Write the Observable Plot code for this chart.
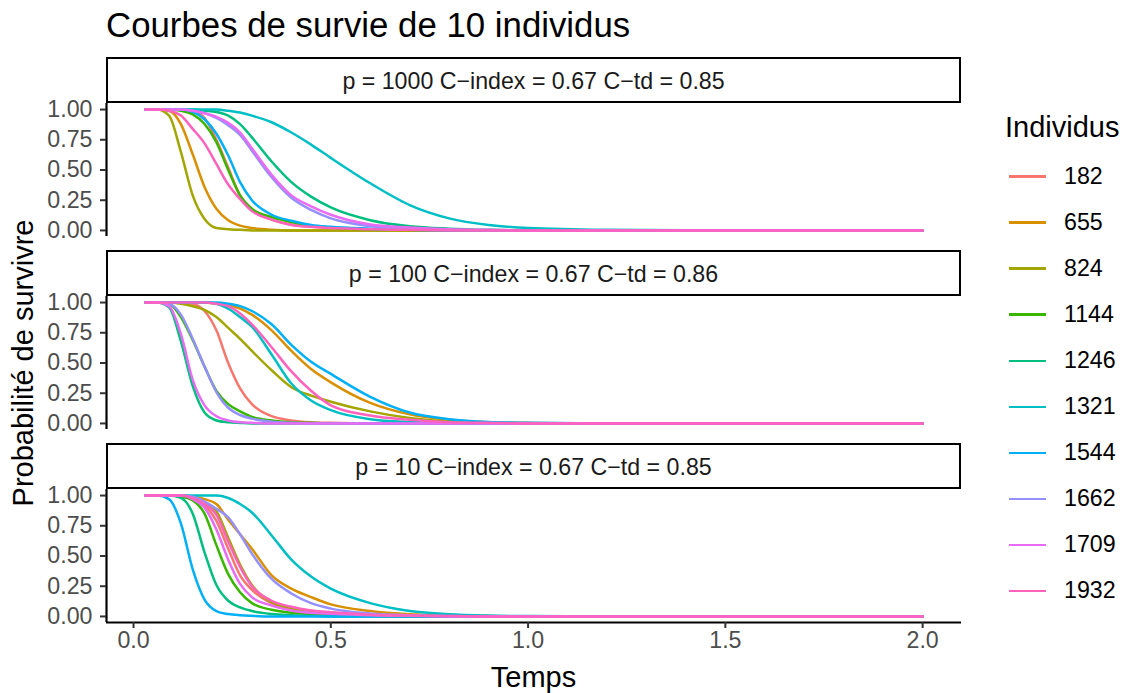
<!DOCTYPE html>
<html>
<head>
<meta charset="utf-8">
<script src="https://cdn.jsdelivr.net/npm/d3@7"></script>
<script src="https://cdn.jsdelivr.net/npm/@observablehq/plot@0.6"></script>
<style>
  html, body { margin: 0; padding: 0; background: #fff; }
  #root { position: relative; width: 1123px; height: 693px; overflow: hidden; background: #fff;
          font-family: "Liberation Sans", Arial, Helvetica, sans-serif; }
  .abs { position: absolute; white-space: nowrap; line-height: 1; }
  .strip { position: absolute; box-sizing: border-box; border: 2.7px solid #000; background: #fff;
           display: flex; align-items: center; justify-content: center; font-size: 23.2px; color: #1A1A1A;
           padding-top: 2px; }
  .plotbox { position: absolute; left: 0; }
</style>
</head>
<body>
<div id="root"></div>
<script>
// ---------- data ----------
const temps = [0.03, 0.06, 0.09, 0.12, 0.15, 0.18, 0.21, 0.24, 0.27, 0.30, 0.35, 0.40, 0.45, 0.50, 0.60, 0.70, 0.80, 0.90, 1.00, 1.20, 1.50, 2.00];
const individus = ["182", "655", "824", "1144", "1246", "1321", "1544", "1662", "1709", "1932"];
const couleurs = ["#F8766D", "#D89000", "#A3A500", "#39B600", "#00BF7D", "#00BFC4", "#00B0F6", "#9590FF", "#E76BF3", "#FF62BC"];
const titresPanneaux = [
  "p = 1000 C\u2212index = 0.67 C\u2212td = 0.85",
  "p = 100 C\u2212index = 0.67 C\u2212td = 0.86",
  "p = 10 C\u2212index = 0.67 C\u2212td = 0.85"
];
const yTicks = [0, 0.25, 0.5, 0.75, 1];
const xTicks = [0, 0.5, 1, 1.5, 2];

// survival probability per individual (rows follow `individus`), columns follow `temps`
const surv_p1000 = [
  [1,1,1,1,0.99,0.93,0.75,0.52,0.29,0.17,0.09,0.05,0.03,0.02,0.01,0,0,0,0,0,0,0],
  [1,1,0.99,0.88,0.63,0.36,0.18,0.085,0.04,0.02,0.005,0,0,0,0,0,0,0,0,0,0,0],
  [1,1,0.95,0.65,0.29,0.095,0.02,0.01,0.005,0,0,0,0,0,0,0,0,0,0,0,0,0],
  [1,1,1,0.99,0.96,0.88,0.73,0.50,0.29,0.18,0.11,0.07,0.04,0.025,0.01,0.005,0,0,0,0,0,0],
  [1,1,1,1,1,0.99,0.98,0.95,0.88,0.77,0.57,0.40,0.28,0.19,0.085,0.035,0.015,0.005,0,0,0,0],
  [1,1,1,1,1,1,1,0.99,0.975,0.95,0.895,0.81,0.71,0.60,0.39,0.21,0.10,0.045,0.02,0.005,0,0],
  [1,1,1,1,0.98,0.92,0.80,0.62,0.40,0.25,0.13,0.08,0.045,0.03,0.015,0.005,0,0,0,0,0,0],
  [1,1,1,1,0.99,0.97,0.93,0.87,0.79,0.66,0.44,0.27,0.17,0.10,0.035,0.015,0.005,0,0,0,0,0],
  [1,1,1,1,0.99,0.97,0.94,0.89,0.81,0.68,0.46,0.29,0.20,0.13,0.05,0.025,0.01,0.005,0,0,0,0],
  [1,1,0.99,0.95,0.84,0.72,0.55,0.38,0.26,0.16,0.09,0.045,0.03,0.02,0.01,0.005,0,0,0,0,0,0]
];
const surv_p100 = [
  [1,1,1,1,0.99,0.93,0.77,0.50,0.29,0.16,0.06,0.025,0.01,0.005,0,0,0,0,0,0,0,0],
  [1,1,1,1,1,1,0.99,0.98,0.95,0.90,0.77,0.60,0.45,0.34,0.17,0.075,0.03,0.01,0.005,0,0,0],
  [1,1,1,0.99,0.97,0.94,0.88,0.79,0.70,0.60,0.44,0.30,0.23,0.18,0.10,0.045,0.015,0.005,0,0,0,0],
  [1,1,0.99,0.88,0.69,0.47,0.27,0.16,0.10,0.055,0.025,0.01,0.005,0,0,0,0,0,0,0,0,0],
  [1,1,0.96,0.68,0.31,0.09,0.025,0.01,0.004,0,0,0,0,0,0,0,0,0,0,0,0,0],
  [1,1,1,1,1,1,0.99,0.95,0.88,0.80,0.57,0.33,0.19,0.11,0.035,0.012,0.004,0,0,0,0,0],
  [1,1,1,1,1,1,1,0.99,0.97,0.93,0.82,0.65,0.51,0.41,0.22,0.09,0.035,0.012,0.005,0,0,0],
  [1,1,0.99,0.90,0.70,0.47,0.26,0.13,0.07,0.04,0.015,0.005,0,0,0,0,0,0,0,0,0,0],
  [1,1,0.97,0.74,0.36,0.15,0.06,0.025,0.01,0.005,0,0,0,0,0,0,0,0,0,0,0,0],
  [1,1,1,1,1,1,0.99,0.97,0.91,0.82,0.63,0.43,0.27,0.15,0.065,0.03,0.01,0.005,0,0,0,0]
];
const surv_p10 = [
  [1,1,1,1,0.98,0.92,0.79,0.56,0.34,0.22,0.11,0.06,0.035,0.025,0.01,0.005,0,0,0,0,0,0],
  [1,1,1,1,0.99,0.97,0.93,0.80,0.68,0.56,0.34,0.23,0.16,0.10,0.045,0.018,0.007,0.003,0,0,0,0],
  [1,1,1,1,0.98,0.94,0.87,0.65,0.43,0.26,0.12,0.07,0.045,0.03,0.012,0.005,0,0,0,0,0,0],
  [1,1,1,0.99,0.96,0.85,0.59,0.35,0.20,0.11,0.055,0.03,0.02,0.012,0.005,0,0,0,0,0,0,0],
  [1,1,1,0.98,0.85,0.53,0.26,0.13,0.075,0.045,0.02,0.01,0.005,0,0,0,0,0,0,0,0,0],
  [1,1,1,1,1,1,1,0.98,0.93,0.86,0.67,0.47,0.33,0.23,0.11,0.045,0.018,0.007,0.003,0,0,0],
  [1,1,0.97,0.77,0.39,0.14,0.045,0.02,0.01,0.005,0,0,0,0,0,0,0,0,0,0,0,0],
  [1,1,1,1,0.99,0.95,0.89,0.82,0.68,0.52,0.31,0.19,0.11,0.065,0.025,0.01,0.004,0,0,0,0,0],
  [1,1,1,1,0.97,0.90,0.72,0.47,0.27,0.16,0.09,0.05,0.03,0.022,0.01,0.005,0,0,0,0,0,0],
  [1,1,1,1,0.98,0.93,0.84,0.62,0.41,0.25,0.13,0.08,0.05,0.035,0.015,0.007,0.003,0,0,0,0,0]
];
const panneaux = [surv_p1000, surv_p100, surv_p10];

// ---------- layout ----------
const root = document.getElementById("root");
const FONT = '"Liberation Sans", Arial, Helvetica, sans-serif';
function addText(txt, css) {
  const d = document.createElement("div");
  d.className = "abs";
  d.textContent = txt;
  Object.assign(d.style, css);
  root.appendChild(d);
  return d;
}

// title
addText("Courbes de survie de 10 individus", {left: "106px", top: "7.5px", fontSize: "34.8px", color: "#000"});

// scales (ggplot-like 5% expansion)
const tExt = d3.extent(temps);
const tPad = (tExt[1] - tExt[0]) * 0.05;
const xDom = [tExt[0] - tPad, tExt[1] + tPad];
const yDom = [-0.05, 1.05];

const panelLeft = 106, panelRight = 961, W = 1123;
const panelH = 133, step = 193, firstPanelTop = 103, stripH = 46;

panneaux.forEach((mat, k) => {
  const panelTop = firstPanelTop + step * k;
  // strip
  const s = document.createElement("div");
  s.className = "strip";
  Object.assign(s.style, {left: panelLeft + "px", top: (panelTop - stripH) + "px",
    width: (panelRight - panelLeft) + "px", height: stripH + "px"});
  s.textContent = titresPanneaux[k];
  root.appendChild(s);

  const rows = [];
  mat.forEach((vals, i) => vals.forEach((v, j) => rows.push({t: temps[j], s: v, ind: individus[i]})));

  const last = k === panneaux.length - 1;
  const mt = 12, mb = last ? 60 : 12;
  const marks = [
    Plot.line(rows, {x: "t", y: "s", z: "ind", stroke: "ind", strokeWidth: 2.5, curve: "monotone-x"}),
    Plot.ruleX([xDom[0]], {stroke: "#000", strokeWidth: 2.2}),
    Plot.axisY({ticks: yTicks, tickFormat: d3.format(".2f"), tickSize: 6, tickPadding: 8,
      fontSize: 23.2, stroke: "#333333", fill: "#4D4D4D", strokeWidth: 2, label: null})
  ];
  if (last) {
    marks.push(Plot.ruleY([yDom[0]], {stroke: "#000", strokeWidth: 2.2}));
    marks.push(Plot.axisX({ticks: xTicks, tickFormat: d3.format(".1f"), tickSize: 6, tickPadding: 3,
      fontSize: 23.2, stroke: "#333333", fill: "#4D4D4D", strokeWidth: 2, label: null}));
  }
  const chart = Plot.plot({
    width: W, height: panelH + mt + mb,
    marginLeft: panelLeft, marginRight: W - panelRight, marginTop: mt, marginBottom: mb,
    style: {background: "transparent", overflow: "visible", fontFamily: FONT},
    x: {domain: xDom, axis: last ? undefined : null},
    y: {domain: yDom},
    color: {domain: individus, range: couleurs},
    marks
  });
  const box = document.createElement("div");
  box.className = "plotbox";
  box.style.top = (panelTop - mt) + "px";
  box.appendChild(chart);
  root.appendChild(box);
});

// axis titles
addText("Temps", {left: "533.5px", top: "662.5px", fontSize: "29px", color: "#000", transform: "translateX(-50%)"});
addText("Probabilit\u00e9 de survivre", {left: "23px", top: "363px", fontSize: "29px", color: "#000",
  transform: "translate(-50%, -50%) rotate(-90deg)"});

// legend
addText("Individus", {left: "1005px", top: "112.5px", fontSize: "29px", color: "#000"});
individus.forEach((ind, i) => {
  const cy = 176.5 + 46.05 * i;
  const key = document.createElement("div");
  Object.assign(key.style, {position: "absolute", left: "1009px", top: (cy - 1.2) + "px", width: "37px",
    height: "2.5px", background: couleurs[i]});
  root.appendChild(key);
  addText(ind, {left: "1064px", top: (cy - 11.6) + "px", fontSize: "23.2px", color: "#000",
    height: "23.2px", lineHeight: "23.2px"});
});
</script>
</body>
</html>
